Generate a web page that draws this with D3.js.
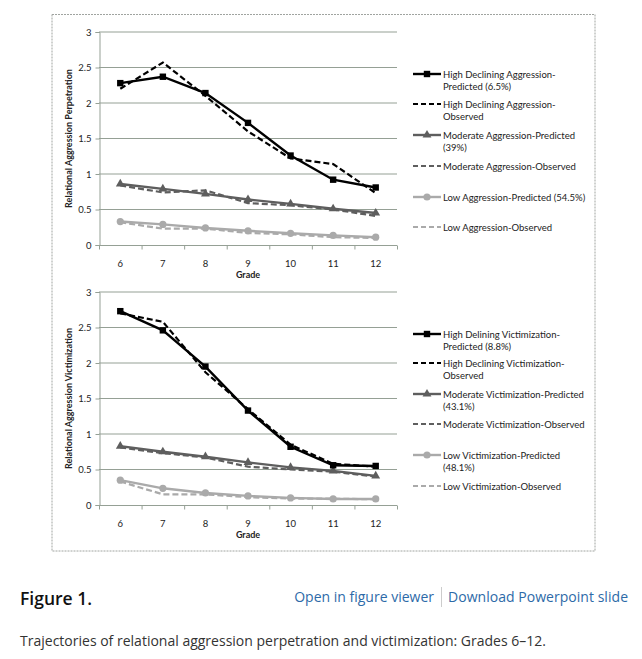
<!DOCTYPE html>
<html>
<head>
<meta charset="utf-8">
<script src="https://cdn.jsdelivr.net/npm/d3@7"></script>
<style>
  body { margin: 0; background: #fff; }
  svg { display: block; }
</style>
</head>
<body>
<svg id="chart" width="642" height="659"></svg>
<script>
const grades = [6, 7, 8, 9, 10, 11, 12];
const yTicks = [0, 0.5, 1, 1.5, 2, 2.5, 3];

// perpetration panel
const perpHighPred = [2.28, 2.37, 2.14, 1.72, 1.26, 0.92, 0.81];
const perpHighObs  = [2.20, 2.57, 2.10, 1.60, 1.22, 1.14, 0.73];
const perpModPred  = [0.86, 0.79, 0.72, 0.64, 0.58, 0.51, 0.45];
const perpModObs   = [0.84, 0.74, 0.77, 0.59, 0.56, 0.50, 0.41];
const perpLowPred  = [0.33, 0.29, 0.24, 0.20, 0.165, 0.135, 0.11];
const perpLowObs   = [0.32, 0.23, 0.23, 0.17, 0.15, 0.11, 0.10];

// victimization panel
const victHighPred = [2.73, 2.46, 1.95, 1.33, 0.82, 0.56, 0.55];
const victHighObs  = [2.70, 2.58, 1.87, 1.35, 0.85, 0.58, 0.54];
const victModPred  = [0.83, 0.75, 0.68, 0.60, 0.53, 0.48, 0.41];
const victModObs   = [0.81, 0.73, 0.67, 0.54, 0.50, 0.47, 0.40];
const victLowPred  = [0.35, 0.235, 0.17, 0.128, 0.10, 0.085, 0.085];
const victLowObs   = [0.33, 0.15, 0.15, 0.11, 0.09, 0.09, 0.08];

const perpLabels = [
  ["High Declining Aggression-", "Predicted (6.5%)"],
  ["High Declining Aggression-", "Observed"],
  ["Moderate Aggression-Predicted", "(39%)"],
  ["Moderate Aggression-Observed"],
  ["Low Aggression-Predicted (54.5%)"],
  ["Low Aggression-Observed"]
];
const victLabels = [
  ["High Delining Victimization-", "Predicted (8.8%)"],
  ["High Declining Victimization-", "Observed"],
  ["Moderate Victimization-Predicted", "(43.1%)"],
  ["Moderate Victimization-Observed"],
  ["Low Victimization-Predicted", "(48.1%)"],
  ["Low Victimization-Observed"]
];

const font = "Lato, 'Open Sans', sans-serif";
const svg = d3.select("#chart");

svg.append("rect").attr("width", 642).attr("height", 659).attr("fill", "#fff");

// figure frame
svg.append("rect")
  .attr("x", 52).attr("y", 14.5).attr("width", 543).attr("height", 536.5)
  .attr("fill", "none").attr("stroke", "#a0a4a0").attr("stroke-width", 1)
  .attr("stroke-dasharray", "2,1");

let styles = [
  { color: "#000", dash: null, marker: "square", width: 2.4 },
  { color: "#000", dash: "6,3", marker: null, width: 2.2 },
  { color: "#5e5e5e", dash: null, marker: "triangle", width: 2.4 },
  { color: "#5e5e5e", dash: "6,3", marker: null, width: 2.2 },
  { color: "#aaaaaa", dash: null, marker: "circle", width: 2.4 },
  { color: "#aaaaaa", dash: "6,3", marker: null, width: 2.2 }
];

function drawMarker(g, type, color, x, y) {
  if (type == "square") {
    g.append("rect").attr("x", x - 3.2).attr("y", y - 3.2)
      .attr("width", 6.4).attr("height", 6.4).attr("fill", color);
  } else if (type == "triangle") {
    g.append("path")
      .attr("d", d3.symbol(d3.symbolTriangle, 34)())
      .attr("transform", `translate(${x},${y})`)
      .attr("fill", color);
  } else if (type == "circle") {
    g.append("circle").attr("cx", x).attr("cy", y).attr("r", 3.6).attr("fill", color);
  }
}

function panel(top, series, yTitle, labels, legendTops) {
  let x = d3.scaleBand().domain(grades).range([99, 397]);
  let y = d3.scaleLinear().domain([0, 3]).range([top + 213, top]);
  let g = svg.append("g");

  // gridlines
  g.selectAll(".grid")
    .data(yTicks.filter(t => t > 0))
    .join("line")
    .attr("x1", 99).attr("x2", 397)
    .attr("y1", d => y(d)).attr("y2", d => y(d))
    .attr("stroke", "#95a095").attr("stroke-width", 1);

  // y axis
  let yAxis = g.append("g")
    .attr("transform", "translate(99.5,0)")
    .call(d3.axisLeft(y).tickValues(yTicks).tickSize(4).tickPadding(4)
      .tickFormat(d3.format("")));
  yAxis.select(".domain").attr("stroke", "#95a095");
  yAxis.selectAll(".tick line").attr("stroke", "#95a095");
  yAxis.selectAll("text").attr("font-family", font).attr("font-size", 9.5).attr("fill", "#222");

  // x axis, ticks between categories
  let base = y(0) + 0.5;
  g.append("line").attr("x1", 99).attr("x2", 397).attr("y1", base).attr("y2", base)
    .attr("stroke", "#95a095");
  g.selectAll(".xt")
    .data(d3.range(grades.length + 1))
    .join("line")
    .attr("x1", i => 99 + i * x.step() + 0.5).attr("x2", i => 99 + i * x.step() + 0.5)
    .attr("y1", base).attr("y2", base + 4)
    .attr("stroke", "#95a095");
  g.selectAll(".xl")
    .data(grades)
    .join("text")
    .attr("x", d => x(d) + x.bandwidth() / 2)
    .attr("y", base + 21)
    .attr("text-anchor", "middle")
    .attr("font-family", font).attr("font-size", 9.5).attr("fill", "#222")
    .text(d => d);
  g.append("text")
    .attr("x", x(9) + x.bandwidth() / 2).attr("y", base + 32)
    .attr("text-anchor", "middle")
    .attr("font-family", font).attr("font-size", 9).attr("font-weight", "bold")
    .attr("fill", "#222").text("Grade");

  g.append("text")
    .attr("transform", `translate(72,${y(1.5)}) rotate(-90)`)
    .attr("text-anchor", "middle")
    .attr("font-family", font).attr("font-size", 9).attr("font-weight", "bold")
    .attr("fill", "#222").text(yTitle);

  let line = d3.line()
    .x((d, i) => x(grades[i]) + x.bandwidth() / 2)
    .y(d => y(d));

  // draw in reverse order so black sits on top
  for (let k = series.length - 1; k >= 0; k--) {
    let s = styles[k];
    g.append("path")
      .attr("d", line(series[k]))
      .attr("fill", "none")
      .attr("stroke", s.color)
      .attr("stroke-width", s.width)
      .attr("stroke-dasharray", s.dash);
    if (s.marker) {
      series[k].forEach((v, i) =>
        drawMarker(g, s.marker, s.color, x(grades[i]) + x.bandwidth() / 2, y(v)));
    }
  }

  // legend
  labels.forEach((lab, k) => {
    let s = styles[k];
    let ly = legendTops[k];
    g.append("line")
      .attr("x1", 413).attr("x2", 441).attr("y1", ly).attr("y2", ly)
      .attr("stroke", s.color).attr("stroke-width", s.width)
      .attr("stroke-dasharray", s.dash ? "5,3" : null);
    if (s.marker) drawMarker(g, s.marker, s.color, 427, ly);
    let t = g.append("text")
      .attr("font-family", font).attr("font-size", 9.5).attr("fill", "#222");
    lab.forEach((txt, j) =>
      t.append("tspan").attr("x", 443).attr("y", ly + 3.5 + j * 12).text(txt));
  });
}

panel(32, [perpHighPred, perpHighObs, perpModPred, perpModObs, perpLowPred, perpLowObs],
  "Relational Aggression Perpetration", perpLabels, [74, 104, 135, 166, 197, 227]);
panel(292, [victHighPred, victHighObs, victModPred, victModObs, victLowPred, victLowObs],
  "Relational Aggression Victimization", victLabels, [334, 363, 394, 424, 455, 486]);

// caption block
const capFont = "'Open Sans', sans-serif";
svg.append("text").attr("x", 20).attr("y", 605)
  .attr("font-family", capFont).attr("font-size", 17.5).attr("font-weight", 600)
  .attr("fill", "#111")
  .text("Figure 1.");
svg.append("text").attr("x", 434).attr("y", 602).attr("text-anchor", "end")
  .attr("font-family", capFont).attr("font-size", 14).attr("fill", "#2d6aa8")
  .text("Open in figure viewer");
svg.append("line").attr("x1", 441.5).attr("x2", 441.5).attr("y1", 587).attr("y2", 607)
  .attr("stroke", "#ccc");
svg.append("text").attr("x", 448).attr("y", 602)
  .attr("font-family", capFont).attr("font-size", 14).attr("fill", "#2d6aa8")
  .attr("textLength", 180)
  .text("Download Powerpoint slide");
svg.append("text").attr("x", 20).attr("y", 646)
  .attr("font-family", capFont).attr("font-size", 14).attr("fill", "#333")
  .attr("textLength", 526)
  .text("Trajectories of relational aggression perpetration and victimization: Grades 6–12.");
</script>
</body>
</html>
